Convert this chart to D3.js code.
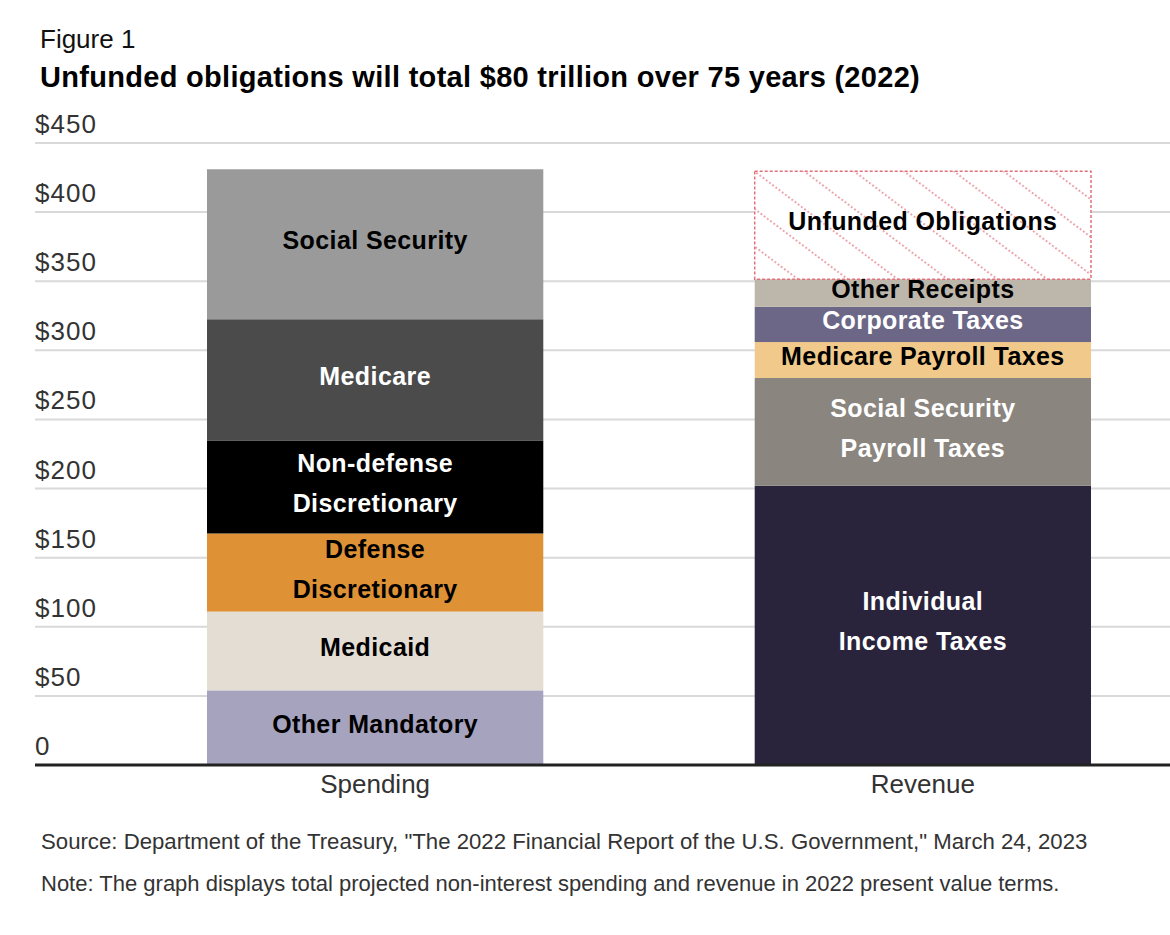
<!DOCTYPE html>
<html lang="en">
<head>
<meta charset="UTF-8">
<title>Unfunded obligations</title>
<script src="https://d3js.org/d3.v7.min.js"></script>
<style>
    body { margin: 0; background: #fff; }
    svg { display: block; }
    text { font-family: "Liberation Sans", Arial, sans-serif; }
</style>
</head>
<body>
<svg id="chart" width="1170" height="935"></svg>
<script>
    // Chart data (trillions of dollars, 2022 present value)
    const categories = ["Spending", "Revenue"];

    const spendingItems = [["Other Mandatory"], ["Medicaid"], ["Defense", "Discretionary"],
        ["Non-defense", "Discretionary"], ["Medicare"], ["Social Security"]];
    const spendingValues = [54, 57, 56.5, 67, 88, 108.5];
    const spendingColors = ["#a6a3bf", "#e4ddd3", "#df9135", "#000000", "#4b4b4b", "#9a9a9a"];
    const spendingText = ["#000", "#000", "#000", "#fff", "#fff", "#000"];

    const revenueItems = [["Individual", "Income Taxes"], ["Social Security", "Payroll Taxes"],
        ["Medicare Payroll Taxes"], ["Corporate Taxes"], ["Other Receipts"], ["Unfunded Obligations"]];
    const revenueValues = [202, 78, 26, 25.5, 20, 78];
    const revenueColors = ["#29233b", "#8a857e", "#f0c98b", "#6c6786", "#bcb6ab", "url(#hatch)"];
    const revenueText = ["#fff", "#fff", "#000", "#fff", "#000", "#000"];

    const yTicks = [0, 50, 100, 150, 200, 250, 300, 350, 400, 450];

    const svg = d3.select("#chart");
    const left = 35, right = 1170, baseY = 765, topY = 143;

    const x = d3.scaleBand().domain(categories).range([207, 1091]).paddingInner(0.386).paddingOuter(0);
    const y = d3.scaleLinear().domain([0, 450]).range([baseY, topY]);

    // hatch pattern for the unfunded block
    const defs = svg.append("defs");
    const pat = defs.append("pattern")
        .attr("id", "hatch")
        .attr("patternUnits", "userSpaceOnUse")
        .attr("width", 40).attr("height", 30)
        .attr("patternTransform", "translate(757,172) rotate(37)");
    pat.append("rect").attr("width", 40).attr("height", 30).attr("fill", "#fff");
    pat.append("line")
        .attr("x1", 0).attr("x2", 40).attr("y1", 1).attr("y2", 1)
        .attr("stroke", "#e0707c").attr("stroke-width", 1.6)
        .attr("stroke-dasharray", "1.6,2.4");

    // titles
    svg.append("text").attr("x", 40).attr("y", 48)
        .attr("font-size", 26).attr("fill", "#111").text("Figure 1");
    svg.append("text").attr("x", 40).attr("y", 87)
        .attr("font-size", 29).attr("font-weight", "bold").attr("fill", "#000")
        .attr("letter-spacing", 0.3)
        .text("Unfunded obligations will total $80 trillion over 75 years (2022)");

    // gridlines and tick labels
    const grid = svg.append("g");
    grid.selectAll("line").data(yTicks.filter(d => d > 0)).enter().append("line")
        .attr("x1", left).attr("x2", right)
        .attr("y1", d => y(d)).attr("y2", d => y(d))
        .attr("stroke", "#d9d9d9").attr("stroke-width", 2);
    grid.selectAll("text").data(yTicks).enter().append("text")
        .attr("x", left).attr("y", d => y(d) - 10)
        .attr("font-size", 26).attr("letter-spacing", 1).attr("fill", "#333")
        .text(d => d === 0 ? "0" : "$" + d);

    // stacked bars
    function drawStack(cat, items, values, colors, textColors) {
        let acc = 0;
        const rows = values.map((v, i) => {
            const r = { y0: acc, y1: acc + v, label: items[i], color: colors[i], tc: textColors[i] };
            acc += v;
            return r;
        });
        const g = svg.append("g");
        g.selectAll("rect").data(rows).enter().append("rect")
            .attr("x", x(cat)).attr("width", x.bandwidth())
            .attr("y", d => y(d.y1)).attr("height", d => y(d.y0) - y(d.y1))
            .attr("fill", d => d.color)
            .attr("stroke", d => d.color.startsWith("url") ? "#e0707c" : "none")
            .attr("stroke-width", 1.5)
            .attr("stroke-dasharray", "3,2");
        g.selectAll("text").data(rows).enter().append("text")
            .attr("x", x(cat) + x.bandwidth() / 2)
            .attr("y", d => (y(d.y0) + y(d.y1)) / 2 - 4 - (d.label.length - 1) * 20)
            .attr("text-anchor", "middle")
            .attr("dominant-baseline", "central")
            .attr("font-size", 25).attr("font-weight", "bold")
            .attr("letter-spacing", 0.4)
            .attr("fill", d => d.tc)
            .each(function (d) {
                d3.select(this).selectAll("tspan").data(d.label).enter().append("tspan")
                    .attr("x", x(cat) + x.bandwidth() / 2)
                    .attr("dy", (t, i) => i === 0 ? 0 : 40)
                    .text(t => t);
            });
    }
    drawStack("Spending", spendingItems, spendingValues, spendingColors, spendingText);
    drawStack("Revenue", revenueItems, revenueValues, revenueColors, revenueText);

    // baseline
    svg.append("line").attr("x1", left).attr("x2", right)
        .attr("y1", baseY).attr("y2", baseY)
        .attr("stroke", "#222").attr("stroke-width", 3);

    // category labels
    svg.append("g").selectAll("text").data(categories).enter().append("text")
        .attr("x", d => x(d) + x.bandwidth() / 2).attr("y", 793)
        .attr("text-anchor", "middle").attr("font-size", 26).attr("fill", "#333")
        .text(d => d);

    // notes
    svg.append("text").attr("x", 41).attr("y", 849)
        .attr("font-size", 22.2).attr("fill", "#333")
        .text("Source: Department of the Treasury, \"The 2022 Financial Report of the U.S. Government,\" March 24, 2023");
    svg.append("text").attr("x", 41).attr("y", 891)
        .attr("font-size", 22).attr("fill", "#333")
        .text("Note: The graph displays total projected non-interest spending and revenue in 2022 present value terms.");
</script>
</body>
</html>
